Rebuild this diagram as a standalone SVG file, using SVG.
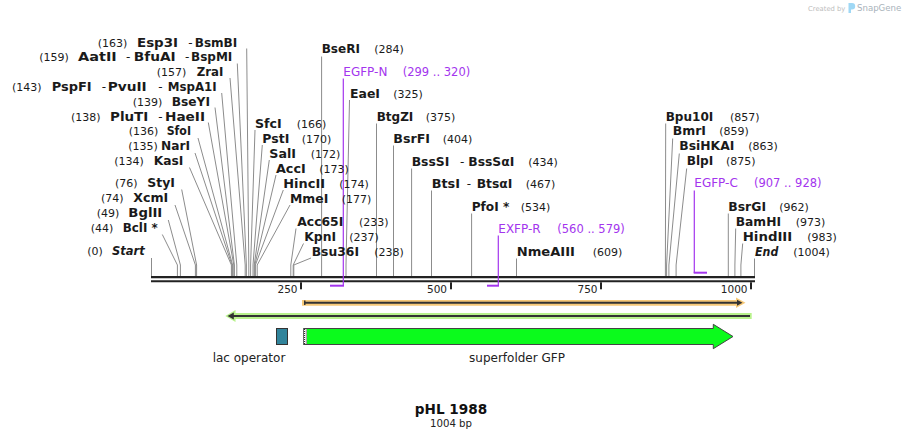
<svg xmlns="http://www.w3.org/2000/svg" width="906" height="439" viewBox="0 0 906 439">
<style>
text{font-family:"DejaVu Sans","Liberation Sans",sans-serif;fill:#1a1a1a}
.n{font-size:12px;font-weight:bold}
.c{font-size:11px;font-weight:normal}
.h{font-size:12px;font-weight:normal}
.i{font-style:italic}
.ln{stroke:#8c8c8c;stroke-width:1;fill:none}
.pt{fill:#a335ee;font-size:12px}
.pc{fill:#a335ee;font-size:11.5px}
.pl{stroke:#a335ee;fill:none}
.ax{stroke:#222;fill:none}
.tk{fill:#222}
.tl{font-size:10.5px;text-anchor:end;fill:#222}
.ft{font-size:12px;fill:#222}
</style>
<rect width="906" height="439" fill="#fff"/>

<g id="logo">
<text x="808" y="10.5" style="font-size:6.8px;fill:#bdbdbd">Created by</text>
<path d="M848.5,3 h3.5 a3.2,3.2 0 0 1 0,6.4 h-1 v3.6 h-2.5 z" fill="#9fd8f5"/>
<text x="857" y="10.5" style="font-size:8.6px;fill:#a9b3bb">SnapGene</text>
</g>

<g id="connectors">
<polyline class="ln" points="246.7,48.5 248.8,265 248.8,276"/>
<polyline class="ln" points="237.3,63.5 246.4,265 246.4,276"/>
<polyline class="ln" points="230,78 245.2,265 245.2,276"/>
<polyline class="ln" points="221.7,93 236.8,265 236.8,276"/>
<polyline class="ln" points="215,107.5 234.4,265 234.4,276"/>
<polyline class="ln" points="208.3,122.5 233.8,265 233.8,276"/>
<polyline class="ln" points="198,138 232.6,265 232.6,276"/>
<polyline class="ln" points="195,153 232,265 232,276"/>
<polyline class="ln" points="189.5,167.5 231.4,265 231.4,276"/>
<polyline class="ln" points="181.7,189.5 196.6,265 196.6,276"/>
<polyline class="ln" points="175,205 195.4,265 195.4,276"/>
<polyline class="ln" points="168.3,220 180.4,265 180.4,276"/>
<polyline class="ln" points="162.3,234.5 177.4,265 177.4,276"/>
<polyline class="ln" points="151.5,258 151.5,276"/>

<polyline class="ln" points="255,130 250.6,265 250.6,276"/>
<polyline class="ln" points="262.3,145 253,265 253,276"/>
<polyline class="ln" points="269.3,160 254.2,265 254.2,276"/>
<polyline class="ln" points="276,175 254.8,265 254.8,276"/>
<polyline class="ln" points="283.3,190 255.4,265 255.4,276"/>
<polyline class="ln" points="290,205 257.2,265 257.2,276"/>
<polyline class="ln" points="296,228.5 290.8,265 290.8,276"/>
<polyline class="ln" points="303.5,243.5 293.2,265 293.2,276"/>
<polyline class="ln" points="311,258 293.8,265 293.8,276"/>

<polyline class="ln" points="321.6,56.5 321.6,276"/>
<polyline class="ln" points="349.5,100 346,265 346,276"/>
<polyline class="ln" points="376.5,123.5 376.5,276"/>
<polyline class="ln" points="393.5,145.5 393.5,276"/>
<polyline class="ln" points="411.6,168.5 411.6,276"/>
<polyline class="ln" points="431.5,190.5 431.5,276"/>
<polyline class="ln" points="471.6,213.5 471.6,276"/>
<polyline class="ln" points="516.5,258.5 516.5,276"/>

<polyline class="ln" points="665.7,123.5 665.4,265 665.4,276"/>
<polyline class="ln" points="672.7,138.5 666.6,265 666.6,276"/>
<polyline class="ln" points="679.3,153.5 668.9,265 668.9,276"/>
<polyline class="ln" points="686.7,168.5 676.1,265 676.1,276"/>
<polyline class="ln" points="728.3,213.5 728.3,276"/>
<polyline class="ln" points="735.7,228.5 734.9,265 734.9,276"/>
<polyline class="ln" points="742.7,243.5 740.9,265 740.9,276"/>
<polyline class="ln" points="754.5,258.5 754.5,276"/>
</g>

<g id="axis">
<line class="ax" x1="151" y1="277.2" x2="755" y2="277.2" stroke-width="2.2"/>
<line class="ax" x1="151" y1="281.3" x2="755" y2="281.3" stroke-width="2"/>
<rect class="tk" x="300" y="282.3" width="2" height="7"/>
<rect class="tk" x="450" y="282.3" width="2" height="7"/>
<rect class="tk" x="600" y="282.3" width="2" height="7"/>
<rect class="tk" x="750" y="282.3" width="2" height="7"/>
<text class="tl" x="297.5" y="292.8">250</text>
<text class="tl" x="447" y="292.8">500</text>
<text class="tl" x="597.5" y="292.8">750</text>
<text class="tl" x="747.5" y="292.8">1000</text>
</g>

<g id="EGFP-N">
<polyline class="pl" stroke-width="1.2" points="343.3,78.5 343.3,285"/>
<line class="pl" stroke-width="2" x1="330" y1="285.7" x2="344" y2="285.7"/>
<text class="pt" x="343.3" y="75.7">EGFP-N</text><text class="pc" x="402.7" y="75.7">(299 .. 320)</text>
</g>
<g id="EXFP-R">
<polyline class="pl" stroke-width="1.2" points="498.3,235.5 498.3,285"/>
<line class="pl" stroke-width="2" x1="487" y1="285.7" x2="499" y2="285.7"/>
<text class="pt" x="498.3" y="232.7">EXFP-R</text><text class="pc" x="557.3" y="232.7">(560 .. 579)</text>
</g>
<g id="EGFP-C">
<polyline class="pl" stroke-width="1.2" points="694.3,190.5 694.3,273"/>
<line class="pl" stroke-width="2" x1="693.7" y1="272.7" x2="707" y2="272.7"/>
<text class="pt" x="694.3" y="187.3">EGFP-C</text><text class="pc" x="754" y="187.3">(907 .. 928)</text>
</g>

<g id="Esp3I"><text class="c" x="97.7" y="46.5">(163)</text><text class="n" x="137" y="46.5" textLength="41" lengthAdjust="spacingAndGlyphs">Esp3I</text><text class="h" x="188.3" y="46.5">-</text><text class="n" x="194.7" y="46.5" textLength="42.6" lengthAdjust="spacingAndGlyphs">BsmBI</text></g>
<g id="AatII"><text class="c" x="39.3" y="61.3">(159)</text><text class="n" x="78" y="61.3" textLength="38.7" lengthAdjust="spacingAndGlyphs">AatII</text><text class="h" x="126" y="61.3">-</text><text class="n" x="133.7" y="61.3" textLength="42" lengthAdjust="spacingAndGlyphs">BfuAI</text><text class="h" x="185" y="61.3">-</text><text class="n" x="191" y="61.3" textLength="41.3" lengthAdjust="spacingAndGlyphs">BspMI</text></g>
<g id="ZraI"><text class="c" x="156.7" y="76.2">(157)</text><text class="n" x="196.7" y="76.2" textLength="26.6" lengthAdjust="spacingAndGlyphs">ZraI</text></g>
<g id="PspFI"><text class="c" x="12" y="91">(143)</text><text class="n" x="51.7" y="91" textLength="40" lengthAdjust="spacingAndGlyphs">PspFI</text><text class="h" x="101.7" y="91">-</text><text class="n" x="107.7" y="91" textLength="39" lengthAdjust="spacingAndGlyphs">PvuII</text><text class="h" x="158.3" y="91">-</text><text class="n" x="167.7" y="91" textLength="49" lengthAdjust="spacingAndGlyphs">MspA1I</text></g>
<g id="BseYI"><text class="c" x="132.7" y="105.6">(139)</text><text class="n" x="171.7" y="105.6" textLength="38.3" lengthAdjust="spacingAndGlyphs">BseYI</text></g>
<g id="PluTI"><text class="c" x="71" y="120.5">(138)</text><text class="n" x="110" y="120.5" textLength="38.3" lengthAdjust="spacingAndGlyphs">PluTI</text><text class="h" x="158.3" y="120.5">-</text><text class="n" x="165" y="120.5" textLength="40" lengthAdjust="spacingAndGlyphs">HaeII</text></g>
<g id="SfoI"><text class="c" x="128.7" y="135.4">(136)</text><text class="n" x="166.7" y="135.4" textLength="24.3" lengthAdjust="spacingAndGlyphs">SfoI</text></g>
<g id="NarI"><text class="c" x="128.3" y="150.3">(135)</text><text class="n" x="161" y="150.3" textLength="29" lengthAdjust="spacingAndGlyphs">NarI</text></g>
<g id="KasI"><text class="c" x="114.3" y="165.3">(134)</text><text class="n" x="153.7" y="165.3" textLength="29.6" lengthAdjust="spacingAndGlyphs">KasI</text></g>
<g id="StyI"><text class="c" x="115" y="187.4">(76)</text><text class="n" x="147.3" y="187.4" textLength="27.7" lengthAdjust="spacingAndGlyphs">StyI</text></g>
<g id="XcmI"><text class="c" x="101" y="202.4">(74)</text><text class="n" x="133.3" y="202.4" textLength="35" lengthAdjust="spacingAndGlyphs">XcmI</text></g>
<g id="BglII"><text class="c" x="96.7" y="217.4">(49)</text><text class="n" x="128.3" y="217.4" textLength="34" lengthAdjust="spacingAndGlyphs">BglII</text></g>
<g id="BclI"><text class="c" x="90.7" y="232.4">(44)</text><text class="n" x="122.7" y="232.4" textLength="35" lengthAdjust="spacingAndGlyphs">BclI *</text></g>
<g id="Start"><text class="c" x="87.3" y="255.4">(0)</text><text class="n i" x="112" y="255.4" textLength="32.7" lengthAdjust="spacingAndGlyphs">Start</text></g>

<g id="BseRI"><text class="n" x="321.7" y="53.4" textLength="38.3" lengthAdjust="spacingAndGlyphs">BseRI</text><text class="c" x="374.3" y="53.4">(284)</text></g>
<g id="EaeI"><text class="n" x="350" y="97.5" textLength="30" lengthAdjust="spacingAndGlyphs">EaeI</text><text class="c" x="393.3" y="97.5">(325)</text></g>
<g id="BtgZI"><text class="n" x="376.7" y="120.7" textLength="36.6" lengthAdjust="spacingAndGlyphs">BtgZI</text><text class="c" x="425.7" y="120.7">(375)</text></g>
<g id="SfcI"><text class="n" x="255" y="127.5" textLength="26.7" lengthAdjust="spacingAndGlyphs">SfcI</text><text class="c" x="296.7" y="127.5">(166)</text></g>
<g id="BsrFI"><text class="n" x="393.3" y="142.5" textLength="36.7" lengthAdjust="spacingAndGlyphs">BsrFI</text><text class="c" x="442.7" y="142.5">(404)</text></g>
<g id="PstI"><text class="n" x="262.3" y="142.5" textLength="27" lengthAdjust="spacingAndGlyphs">PstI</text><text class="c" x="301.7" y="142.5">(170)</text></g>
<g id="SalI"><text class="n" x="269.3" y="157.5" textLength="26.7" lengthAdjust="spacingAndGlyphs">SalI</text><text class="c" x="310.7" y="157.5">(172)</text></g>
<g id="AccI"><text class="n" x="276" y="172.6" textLength="29.7" lengthAdjust="spacingAndGlyphs">AccI</text><text class="c" x="319.3" y="172.6">(173)</text></g>
<g id="BssSI"><text class="n" x="411.7" y="165.6" textLength="37.6" lengthAdjust="spacingAndGlyphs">BssSI</text><text class="h" x="460" y="165.6">-</text><text class="n" x="468.3" y="165.6" textLength="46" lengthAdjust="spacingAndGlyphs">BssSαI</text><text class="c" x="528.3" y="165.6">(434)</text></g>
<g id="HincII"><text class="n" x="283.3" y="187.6" textLength="41.7" lengthAdjust="spacingAndGlyphs">HincII</text><text class="c" x="339.3" y="187.6">(174)</text></g>
<g id="BtsI"><text class="n" x="431.7" y="187.5" textLength="28.3" lengthAdjust="spacingAndGlyphs">BtsI</text><text class="h" x="466.7" y="187.5">-</text><text class="n" x="476.7" y="187.5" textLength="35.6" lengthAdjust="spacingAndGlyphs">BtsαI</text><text class="c" x="525.7" y="187.5">(467)</text></g>
<g id="MmeI"><text class="n" x="290" y="202.5" textLength="38.3" lengthAdjust="spacingAndGlyphs">MmeI</text><text class="c" x="341.7" y="202.5">(177)</text></g>
<g id="PfoI"><text class="n" x="471.7" y="210.7" textLength="37.6" lengthAdjust="spacingAndGlyphs">PfoI *</text><text class="c" x="520.7" y="210.7">(534)</text></g>
<g id="Acc65I"><text class="n" x="297.3" y="225.7" textLength="46" lengthAdjust="spacingAndGlyphs">Acc65I</text><text class="c" x="359" y="225.7">(233)</text></g>
<g id="KpnI"><text class="n" x="304.3" y="240.7" textLength="31.7" lengthAdjust="spacingAndGlyphs">KpnI</text><text class="c" x="349.3" y="240.7">(237)</text></g>
<g id="Bsu36I"><text class="n" x="311.7" y="255.7" textLength="47.3" lengthAdjust="spacingAndGlyphs">Bsu36I</text><text class="c" x="374.3" y="255.7">(238)</text></g>
<g id="NmeAIII"><text class="n" x="516.7" y="255.7" textLength="58.3" lengthAdjust="spacingAndGlyphs">NmeAIII</text><text class="c" x="592.7" y="255.7">(609)</text></g>

<g id="Bpu10I"><text class="n" x="665.7" y="120.5" textLength="47.6" lengthAdjust="spacingAndGlyphs">Bpu10I</text><text class="c" x="730" y="120.5">(857)</text></g>
<g id="BmrI"><text class="n" x="672.7" y="135.4" textLength="33.3" lengthAdjust="spacingAndGlyphs">BmrI</text><text class="c" x="719.3" y="135.4">(859)</text></g>
<g id="BsiHKAI"><text class="n" x="679.3" y="150.4" textLength="55" lengthAdjust="spacingAndGlyphs">BsiHKAI</text><text class="c" x="748.3" y="150.4">(863)</text></g>
<g id="BlpI"><text class="n" x="686.7" y="165.4" textLength="26.6" lengthAdjust="spacingAndGlyphs">BlpI</text><text class="c" x="726" y="165.4">(875)</text></g>
<g id="BsrGI"><text class="n" x="728.3" y="210.7" textLength="37.7" lengthAdjust="spacingAndGlyphs">BsrGI</text><text class="c" x="779.3" y="210.7">(962)</text></g>
<g id="BamHI"><text class="n" x="735.7" y="225.7" textLength="45.3" lengthAdjust="spacingAndGlyphs">BamHI</text><text class="c" x="795.7" y="225.7">(973)</text></g>
<g id="HindIII"><text class="n" x="742.7" y="240.7" textLength="49.6" lengthAdjust="spacingAndGlyphs">HindIII</text><text class="c" x="807.3" y="240.7">(983)</text></g>
<g id="End"><text class="n i" x="755" y="255.7" textLength="23.3" lengthAdjust="spacingAndGlyphs">End</text><text class="c" x="793.3" y="255.7">(1004)</text></g>

<g id="orf-forward">
<path d="M302,300 H736 V297.6 L745.5,302.8 L736,308 V305.7 H302 Z" fill="#f7c978"/>
<line x1="304" y1="302.8" x2="738" y2="302.8" stroke="#333" stroke-width="2"/>
<path d="M737,299.8 L742.5,302.8 L737,305.8 Z" fill="#333"/>
<rect x="304" y="300.5" width="1.5" height="4.5" fill="#333"/>
</g>
<g id="orf-reverse">
<path d="M751.7,313 H235.5 V310 L225.3,316 L235.5,322 V319 H751.7 Z" fill="#b8f28c"/>
<line x1="232" y1="316" x2="750" y2="316" stroke="#333" stroke-width="2"/>
<path d="M233.8,312.6 L227.5,316 L233.8,319.4 Z" fill="#333"/>
</g>

<g id="lac-operator">
<rect x="276.5" y="328.5" width="11" height="16" fill="#31849b" stroke="#333" stroke-width="1"/>
<text class="ft" x="249" y="362" text-anchor="middle">lac operator</text>
</g>
<g id="superfolder-GFP">
<path d="M303.5,328.5 H713.3 V324.3 L733,336.5 L713.3,348.7 V344.5 H303.5 Z" fill="#0bfb1c" stroke="#444" stroke-width="1"/>
<rect x="303.8" y="329" width="3.2" height="15" fill="#fff"/>
<line x1="304.6" y1="329" x2="304.6" y2="344" stroke="#000" stroke-width="0.9" stroke-dasharray="1,1"/>
<line x1="306.3" y1="329.5" x2="306.3" y2="344" stroke="#000" stroke-width="0.9" stroke-dasharray="1,1"/>
<text class="ft" x="517" y="362" text-anchor="middle">superfolder GFP</text>
</g>

<g id="title">
<text x="451" y="413.5" text-anchor="middle" style="font-size:13.6px;font-weight:bold;fill:#111">pHL 1988</text>
<text x="451" y="426.8" text-anchor="middle" style="font-size:10.2px;fill:#222">1004 bp</text>
</g>
</svg>
